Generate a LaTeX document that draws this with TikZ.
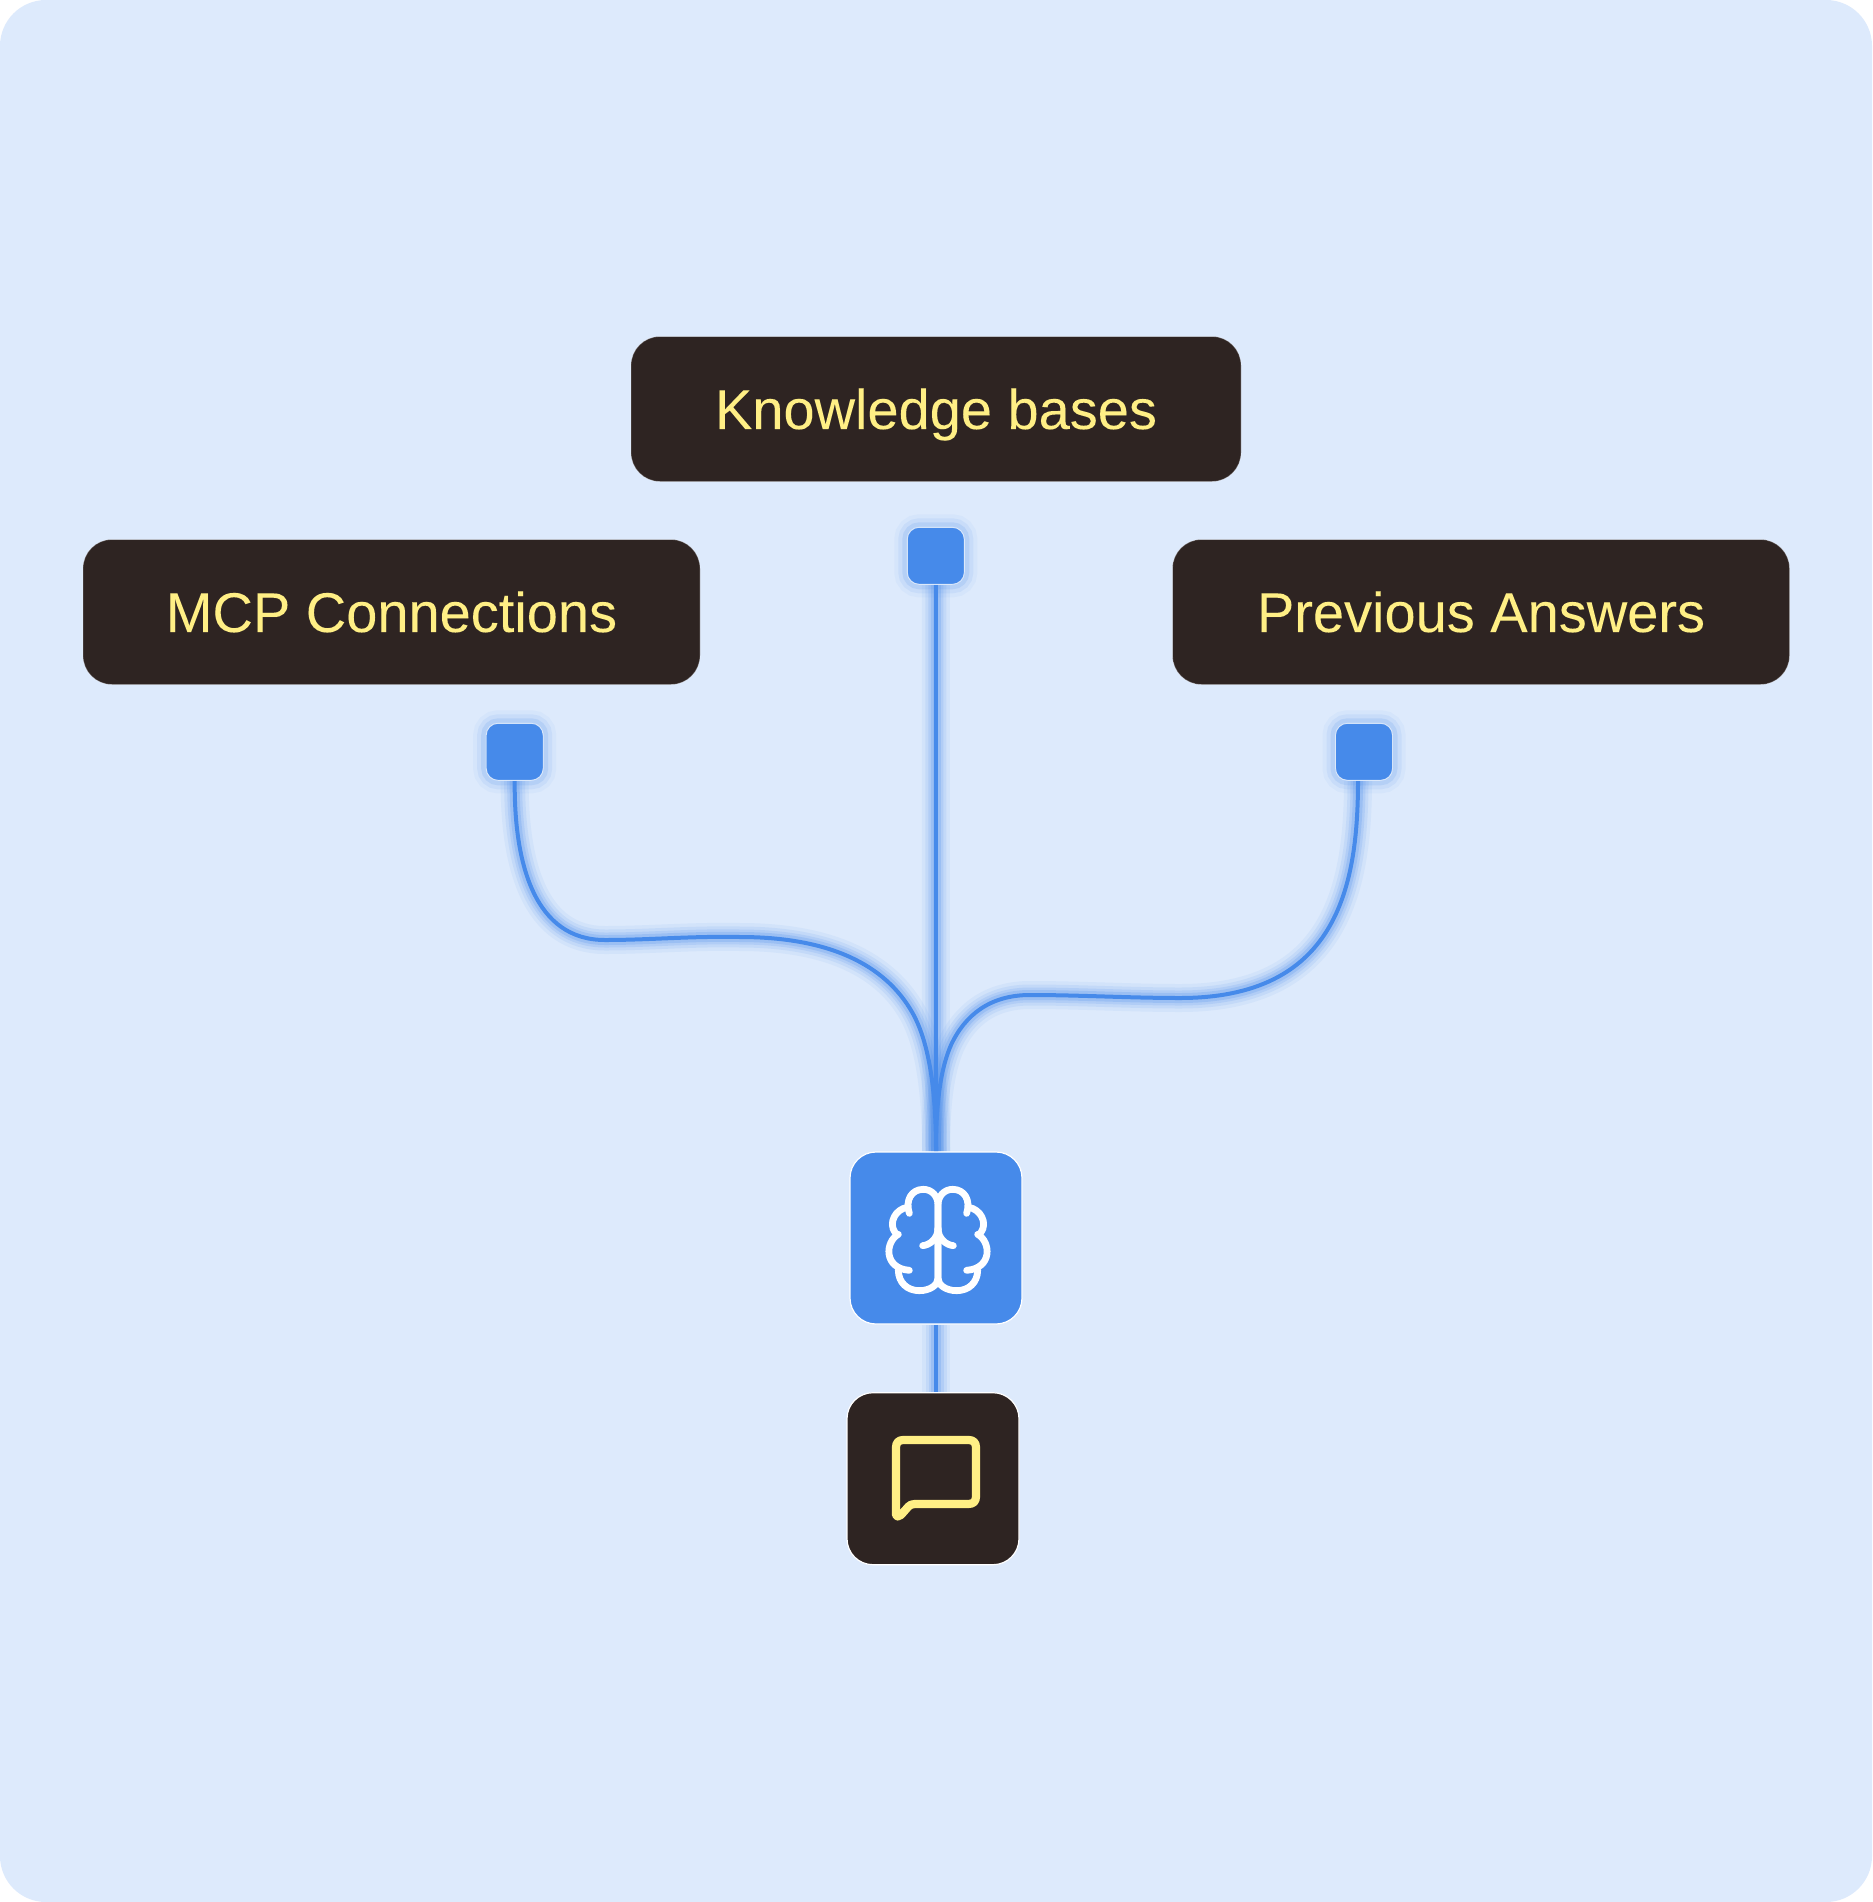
\documentclass[tikz,border=0pt]{standalone}
\usepackage{fontspec}
\setmainfont[FakeBold=0.7]{Liberation Sans}
\usetikzlibrary{backgrounds}
\definecolor{bgblue}{HTML}{DDEAFC}
\definecolor{wireblue}{HTML}{468AEA}
\definecolor{darkbox}{HTML}{2E2422}
\definecolor{textyellow}{HTML}{FFEF85}
\tikzset{
  x=1pt,y=-1pt,
  wire/.style={draw=wireblue,line width=4pt,
    preaction={draw=wireblue,draw opacity=.07,line width=28pt},
    preaction={draw=wireblue,draw opacity=.10,line width=21pt},
    preaction={draw=wireblue,draw opacity=.14,line width=15pt},
    preaction={draw=wireblue,draw opacity=.20,line width=10pt}},
  labelbox/.style={fill=darkbox,draw=white,draw opacity=.3,line width=.8pt,rounded corners=29pt,
    text=textyellow,font=\fontsize{56}{60}\selectfont,inner sep=0pt,anchor=center,
    minimum height=145pt,text height=50pt,text depth=10pt},
  iconbox/.style={draw=white,line width=1.2pt,rounded corners=26pt,minimum width=172pt,minimum height=172pt,inner sep=0pt,anchor=center},
  portbox/.style={fill=wireblue,draw=white,draw opacity=.7,line width=.9pt,rounded corners=12pt,minimum width=57pt,minimum height=57pt,inner sep=0pt,anchor=center,
    preaction={draw=wireblue,draw opacity=.05,line width=26pt},
    preaction={draw=wireblue,draw opacity=.09,line width=18pt},
    preaction={draw=wireblue,draw opacity=.14,line width=10pt}},
  iconline/.style={line width=6.8pt,line cap=round,line join=round},
}
\begin{document}
\begin{tikzpicture}
\useasboundingbox (0,0) rectangle (1872,1902);

\node[labelbox,minimum width=610pt] (kb) at (936,409) {Knowledge bases};
\node[labelbox,minimum width=617pt] (mcp) at (391.5,612) {MCP Connections};
\node[labelbox,minimum width=617pt] (prev) at (1481,612) {Previous Answers};

\node[portbox] (pm) at (935.8,555.8) {};
\node[portbox] (pl) at (514.7,751.8) {};
\node[portbox] (pr) at (1364,751.8) {};

\node[iconbox,fill=wireblue] (brain) at (936,1238) {};
\node[iconbox,fill=darkbox] (chat) at (933,1478.7) {};

\coordinate (chatin) at ([xshift=3pt]chat.north);
\coordinate (prout) at ([xshift=-6pt]pr.south);

\begin{scope}[on background layer]
\fill[white] (0,0) rectangle (1872,1902);
\fill[bgblue,rounded corners=46pt] (0,0) rectangle (1872,1902);
\draw[wire] (pm.south) -- (brain.north);
\draw[wire] (brain.south) -- (chatin);
\draw[wire] (pl.south) .. controls (514,865) and (535,940) .. (605,940)
  .. controls (650,940) and (690,936) .. (740,937)
  .. controls (830,937) and (885,965) .. (912,1012)
  .. controls (928,1040) and (936,1085) .. (brain.north);
\draw[wire] (prout) .. controls (1358,890) and (1335,998) .. (1180,998)
  .. controls (1130,998) and (1080,995) .. (1030,995)
  .. controls (990,995) and (965,1015) .. (951,1045)
  .. controls (941,1068) and (936,1100) .. (brain.north);
\end{scope}

% brain icon, in a 3x grid
\begin{scope}[shift={(830,1130)},x=0.3333pt,y=-0.3333pt]
\foreach \s/\o in {1/0,-1/648}{
\begin{scope}[xshift=\o*0.3333pt,xscale=\s]
\draw[white,iconline] (238,250) .. controls (225,210) and (245,178) .. (280,178)
  .. controls (305,178) and (324,198) .. (324,225) -- (324,445)
  .. controls (324,465) and (300,482) .. (268,482)
  .. controls (232,482) and (205,458) .. (205,420);
\draw[white,iconline] (232,232) .. controls (195,238) and (175,280) .. (195,307) (205,313)
  .. controls (165,335) and (160,415) .. (238,421);
\draw[white,iconline] (324,295) .. controls (324,325) and (300,345) .. (278,347);
\end{scope}}
\end{scope}

% chat icon
\begin{scope}[shift={(830,1130)},x=0.3333pt,y=-0.3333pt]
\draw[textyellow,line width=8.2pt,line join=round,line cap=round]
  (198,1155) -- (198,952) .. controls (198,938) and (206,930) .. (220,930)
  -- (416,930) .. controls (430,930) and (438,938) .. (438,952)
  -- (438,1100) .. controls (438,1114) and (430,1122) .. (416,1122)
  -- (255,1122) .. controls (245,1122) and (240,1125) .. (235,1130)
  -- (213,1155) .. controls (207,1161) and (198,1161) .. (198,1155);
\end{scope}
\end{tikzpicture}
\end{document}
